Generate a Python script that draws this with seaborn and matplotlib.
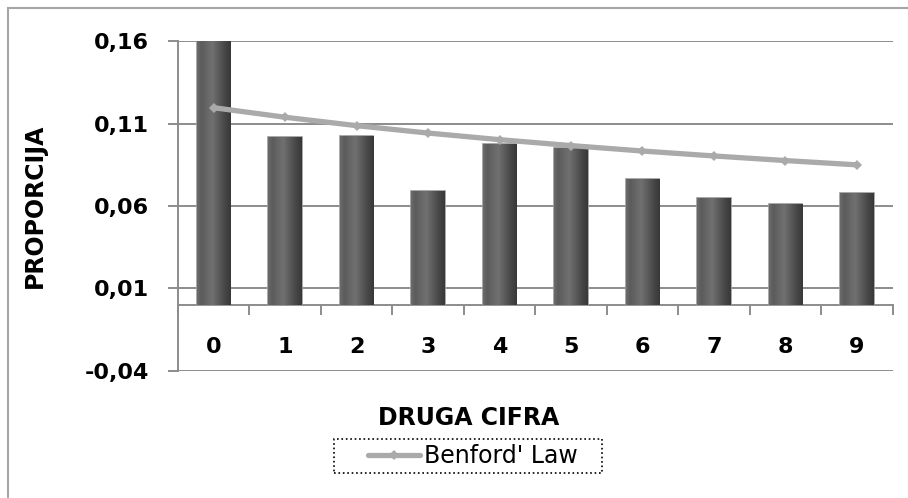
import matplotlib
matplotlib.use("Agg")
import matplotlib.pyplot as plt
import matplotlib.ticker as mticker
from matplotlib.patches import Rectangle
import seaborn as sns
import numpy as np
import pandas as pd

digits = ['0', '1', '2', '3', '4', '5', '6', '7', '8', '9']
observed = [0.160, 0.1018, 0.1028, 0.0690, 0.0976, 0.0952, 0.0763, 0.0647, 0.0614, 0.0678]
benford = [0.1197, 0.1139, 0.1088, 0.1043, 0.1003, 0.0967, 0.0934, 0.0904, 0.0876, 0.0850]
yticks = [-0.04, 0.01, 0.06, 0.11, 0.16]

df = pd.DataFrame({'cifra': digits, 'obs': observed, 'benford': benford})

sns.set_theme(style="white")
plt.rcParams['font.family'] = ['DejaVu Sans']
plt.rcParams['text.color'] = 'black'
plt.rcParams['xtick.color'] = 'black'
plt.rcParams['ytick.color'] = 'black'

fig = plt.figure(figsize=(9.08, 4.98), dpi=100)
ax = fig.add_axes([0.196, 0.2556, 0.787, 0.6614])

sns.barplot(data=df, x='cifra', y='obs', color='#555555', width=0.47,
            edgecolor='#9a9a9a', linewidth=1.2, saturation=1, ax=ax, zorder=3)

# bevel look: horizontal gradient clipped to each bar
grad = np.linspace(0, 1, 64)
shade = np.interp(grad, [0, 0.12, 0.45, 0.85, 1], [0.42, 0.36, 0.44, 0.27, 0.22])
img = np.tile(shade, (2, 1))
for p in ax.patches:
    x0, y0 = p.get_x(), p.get_y()
    w, h = p.get_width(), p.get_height()
    im = ax.imshow(img, cmap='gray', vmin=0, vmax=1, aspect='auto',
                   extent=(x0, x0 + w, y0, y0 + h), zorder=3.5, interpolation='bilinear')
    im.set_clip_path(p)

sns.lineplot(x=np.arange(len(digits)), y=df['benford'], color='#aaaaaa', linewidth=3.8,
             marker='D', markersize=5, markeredgewidth=0, ax=ax, zorder=5,
             label="Benford' Law", legend=False)

ax.set_xlim(-0.5, 9.5)
ax.set_ylim(-0.04, 0.16)
ax.set_yticks(yticks)
ax.yaxis.set_major_formatter(mticker.FuncFormatter(lambda v, _: f"{v:.2f}".replace('.', ',')))
ax.yaxis.grid(True, color='#8c8c8c', linewidth=1.4, zorder=0)
ax.set_axisbelow(True)

for s in ['top', 'right']:
    ax.spines[s].set_visible(False)
ax.spines['left'].set_color('#8c8c8c')
ax.spines['left'].set_linewidth(1.4)
ax.spines['bottom'].set_position(('data', 0))
ax.spines['bottom'].set_color('#8c8c8c')
ax.spines['bottom'].set_linewidth(1.4)

ax.tick_params(axis='y', direction='out', length=7, width=1.4, color='#8c8c8c',
               left=True, labelsize=16, pad=14, labelcolor='black')
ax.tick_params(axis='x', which='major', length=0, labelsize=16, pad=23, labelcolor='black')
ax.set_xticks(np.arange(-0.5, 10, 1), minor=True)
ax.tick_params(axis='x', which='minor', direction='out', length=7, width=1.4,
               color='#8c8c8c', bottom=True)
for lab in ax.get_xticklabels() + ax.get_yticklabels():
    lab.set_fontweight('bold')

ax.set_xlabel('')
ax.set_ylabel('')
fig.text(0.0385, 1 - 206 / 498, 'PROPORCIJA', rotation=90, ha='center', va='center',
         fontsize=17, fontweight='bold', color='black')
fig.text(0.5165, 1 - 418 / 498, 'DRUGA CIFRA', ha='center', va='center',
         fontsize=17, fontweight='bold', color='black')

leg = fig.legend(*ax.get_legend_handles_labels(), loc='center',
                 bbox_to_anchor=(473 / 908, 1 - 456 / 498), fontsize=17,
                 frameon=False, handlelength=2.2, handletextpad=0.15)

# dotted legend box, wider than its content as in the original
fig.patches.append(Rectangle((334 / 908, 1 - 473 / 498), 268 / 908, 34 / 498,
                             transform=fig.transFigure, fill=False, edgecolor='black',
                             linestyle=':', linewidth=1.2))

fig.patches.append(Rectangle((8 / 908, -0.1), 1.2, 1 - 8 / 498 + 0.1, transform=fig.transFigure,
                             fill=False, edgecolor='#a6a6a6', linewidth=1.5))

fig.savefig('out.png', dpi=100)
